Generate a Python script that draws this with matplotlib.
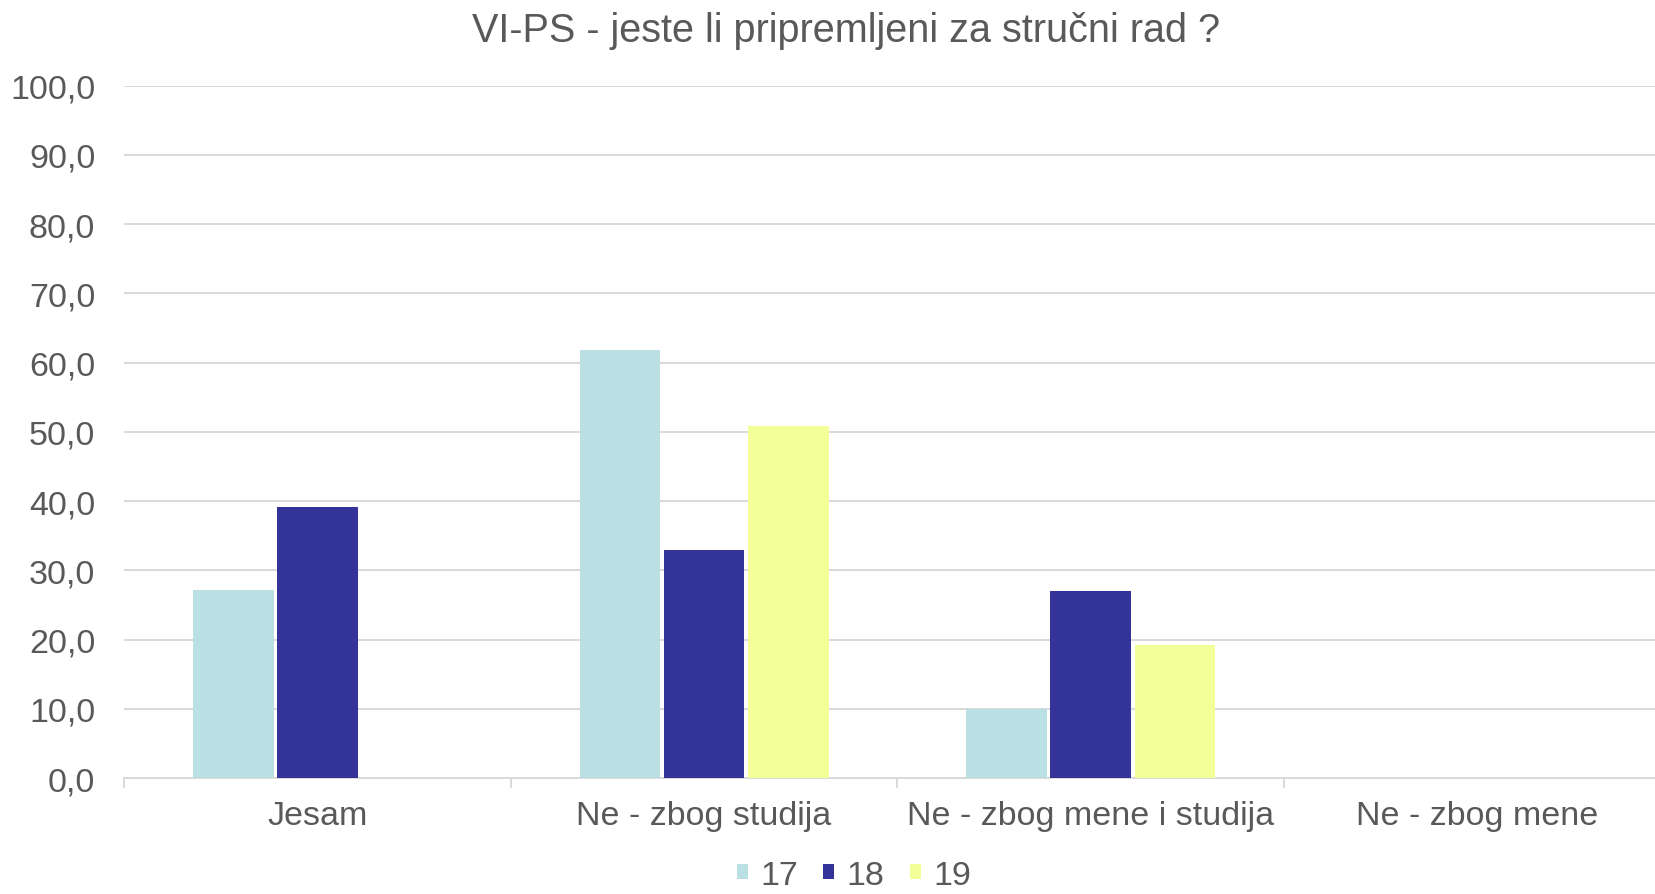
import numpy as np
import matplotlib.pyplot as plt
from matplotlib.ticker import FuncFormatter, FixedLocator

# podaci
kategorije = ['Jesam', 'Ne - zbog studija', 'Ne - zbog mene i studija', 'Ne - zbog mene']
godine = ['17', '18', '19']
vals_17 = [27.2, 61.8, 10.0, 0]
vals_18 = [39.1, 33.0, 27.0, 0]
vals_19 = [0, 50.8, 19.2, 0]
boje = ['#BBE0E3', '#333399', '#F3FF99']

plt.rcParams['font.family'] = ['Liberation Sans', 'DejaVu Sans']
siva = '#595959'

fig = plt.figure(figsize=(16.55, 8.95), dpi=100)
ax = fig.add_axes([0.0752, 0.1296, 0.934, 0.7736])

x = np.arange(len(kategorije))
w = 0.218
for i, (v, c, lab) in enumerate(zip([vals_17, vals_18, vals_19], boje, godine)):
    ax.bar(x + (i - 1) * w, v, width=w * 0.955, color=c, linewidth=0,
           label=lab, zorder=3)

ax.set_xlim(-0.5, 3.5)
ax.set_ylim(0, 100)
ax.set_yticks(np.arange(0, 101, 10))
ax.yaxis.set_major_formatter(FuncFormatter(lambda v, p: f'{v:.1f}'.replace('.', ',')))
ax.grid(axis='y', color='#d9d9d9', linewidth=1.4, zorder=0)
ax.set_axisbelow(True)

ax.set_xticks(x)
ax.set_xticklabels(kategorije)
ax.xaxis.set_minor_locator(FixedLocator(np.arange(-0.5, 4, 1)))
ax.tick_params(axis='x', which='major', length=0, pad=16, labelsize=24.5, labelcolor=siva)
ax.tick_params(axis='x', which='minor', length=7, width=1.4, color='#d9d9d9')
ax.tick_params(axis='y', length=0, pad=21, labelsize=24.5, labelcolor=siva)

for s in ['top', 'right', 'left']:
    ax.spines[s].set_visible(False)
ax.spines['bottom'].set_color('#d9d9d9')
ax.spines['bottom'].set_linewidth(1.4)

fig.text(0.5115, 0.965, 'VI-PS - jeste li pripremljeni za stručni rad ?',
         ha='center', va='center', fontsize=28.5, color=siva)

fig.legend(loc='center', bbox_to_anchor=(0.516, 0.021), ncol=3, frameon=False,
           fontsize=24.5, handlelength=0.32, handleheight=0.32, handletextpad=0.37,
           columnspacing=0.74, labelcolor=siva, borderpad=0)

fig.savefig('out.png', dpi=100)
